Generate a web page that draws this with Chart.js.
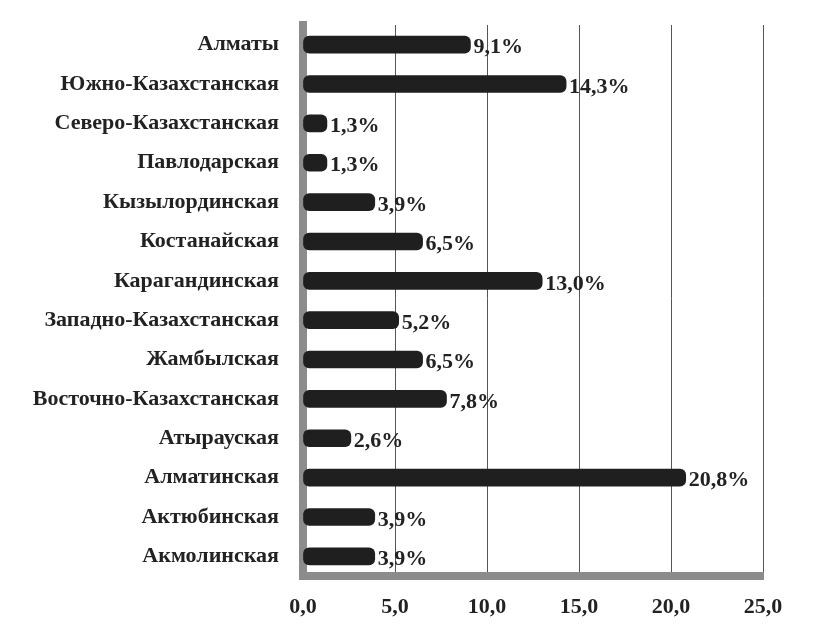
<!DOCTYPE html>
<html>
<head>
<meta charset="utf-8">
<script src="https://cdn.jsdelivr.net/npm/chart.js@4/dist/chart.umd.min.js"></script>
<style>
  html, body { margin: 0; padding: 0; background: #fff; }
  #wrap { width: 825px; height: 644px; position: relative; }
</style>
</head>
<body>
<div id="wrap"><canvas id="canvas1" width="825" height="644"></canvas></div>
<script>
const regions = [
  'Алматы',
  'Южно-Казахстанская',
  'Северо-Казахстанская',
  'Павлодарская',
  'Кызылординская',
  'Костанайская',
  'Карагандинская',
  'Западно-Казахстанская',
  'Жамбылская',
  'Восточно-Казахстанская',
  'Атырауская',
  'Алматинская',
  'Актюбинская',
  'Акмолинская'
];
const shares = [9.1, 14.3, 1.3, 1.3, 3.9, 6.5, 13.0, 5.2, 6.5, 7.8, 2.6, 20.8, 3.9, 3.9];
const xTicks = [0, 5, 10, 15, 20, 25];

const fmt = (v) => v.toFixed(1).replace('.', ',');
const serif = '"Liberation Serif", "Times New Roman", serif';

// value labels after each bar end
const barLabels = {
  id: 'barLabels',
  afterDatasetsDraw(chart) {
    const ctx = chart.ctx;
    const meta = chart.getDatasetMeta(0);
    ctx.save();
    ctx.font = 'bold 22px ' + serif;
    ctx.fillStyle = '#222';
    ctx.textAlign = 'left';
    ctx.textBaseline = 'middle';
    meta.data.forEach((bar, i) => {
      ctx.fillText(fmt(shares[i]) + '%', bar.x + 3, bar.y + 3);
    });
    ctx.restore();
  }
};

const ctx1 = canvas1.getContext('2d');
const config = {
  type: 'bar',
  data: {
    labels: regions,
    datasets: [{
      data: shares,
      backgroundColor: '#1f1f1f',
      borderRadius: 6,
      borderSkipped: false,
      barThickness: 17
    }]
  },
  options: {
    indexAxis: 'y',
    responsive: false,
    animation: false,
    layout: { padding: { top: 25, right: 62, left: 0, bottom: 0 } },
    plugins: {
      legend: { display: false },
      tooltip: { enabled: false }
    },
    scales: {
      x: {
        min: 0,
        max: 25,
        afterBuildTicks: (scale) => { scale.ticks = xTicks.map(v => ({ value: v })); },
        afterFit: (scale) => { scale.height = 68; scale.paddingLeft = 0; scale.paddingRight = 0; },
        grid: { color: '#555', lineWidth: 1, drawTicks: false },
        border: { display: true, color: '#8c8c8c', width: 8 },
        ticks: {
          padding: 18,
          color: '#222',
          font: { family: serif, size: 22, weight: 'bold' },
          callback: (v) => fmt(v)
        }
      },
      y: {
        afterFit: (scale) => { scale.width = 303; scale.paddingTop = 0; scale.paddingBottom = 0; },
        grid: { display: false, drawTicks: false },
        border: { display: true, color: '#8c8c8c', width: 8 },
        ticks: {
          padding: 24,
          color: '#222',
          font: { family: serif, size: 22, weight: 'bold' }
        }
      }
    }
  },
  plugins: [barLabels]
};
const chart1 = new Chart(ctx1, config);
</script>
</body>
</html>
